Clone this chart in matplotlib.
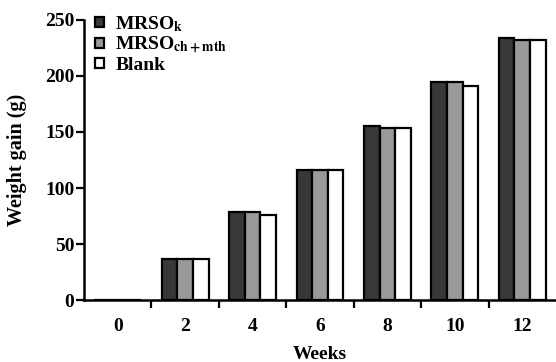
import matplotlib
matplotlib.use("Agg")
import matplotlib.pyplot as plt
import numpy as np

plt.rcParams['font.family'] = ['Liberation Serif', 'DejaVu Serif']
plt.rcParams['font.weight'] = 'bold'
plt.rcParams['mathtext.fontset'] = 'stix'

weeks = ['0', '2', '4', '6', '8', '10', '12']
mrso_k = [0, 37, 79, 116, 155, 195, 234]
mrso_mix = [0, 37, 79, 116, 154, 195, 232]
blank = [0, 37, 76, 116, 154, 191, 232]
labels = ['MRSO$_{\\mathrm{k}}$', 'MRSO$_{\\mathrm{ch+mth}}$', 'Blank']
colors = ['#383838', '#999999', '#ffffff']

fig = plt.figure(figsize=(5.56, 3.62), dpi=100)
ax = fig.add_axes([0.151, 0.171, 0.849, 0.774])

x = np.arange(len(weeks))
w = 0.232
for i, (vals, lab, c) in enumerate(zip([mrso_k, mrso_mix, blank], labels, colors)):
    ax.bar(x + (i - 1) * w, vals, w, color=c, edgecolor='black', linewidth=1.6,
           label=lab, zorder=3)

ax.set_xlim(-0.5, 6.5)
ax.set_ylim(0, 250)
ax.set_yticks([0, 50, 100, 150, 200, 250])
ax.set_xticks(x)
ax.set_xticklabels(weeks)
ax.set_xticks(np.arange(0.5, 6.5, 1), minor=True)
ax.tick_params(axis='x', which='major', length=0, pad=13, labelsize=14)
ax.tick_params(axis='x', which='minor', length=6, width=1.6, direction='out')
ax.tick_params(axis='y', length=6, width=1.6, labelsize=14, pad=1)

for s in ['top', 'right']:
    ax.spines[s].set_visible(False)
ax.spines['left'].set_linewidth(1.8)
ax.spines['bottom'].set_linewidth(1.8)

ax.set_ylabel('Weight gain (g)', fontsize=14.5, fontweight='bold', labelpad=13)
ax.set_xlabel('Weeks', fontsize=14, fontweight='bold', labelpad=8)

leg = ax.legend(loc='upper left', bbox_to_anchor=(0.015, 1.035), frameon=False,
                borderaxespad=0, borderpad=0.2,
                fontsize=14, handlelength=0.45, handleheight=0.45,
                handletextpad=0.6, labelspacing=0.05)

fig.savefig('out.png', dpi=100)
